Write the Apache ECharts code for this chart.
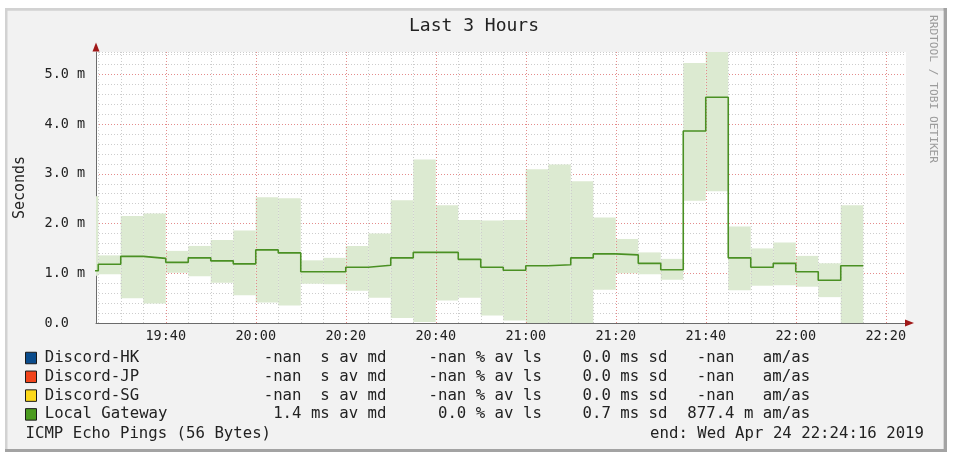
<!DOCTYPE html>
<html>
<head>
<meta charset="utf-8">
<script src="https://cdn.jsdelivr.net/npm/echarts@6/dist/echarts.min.js"></script>
<style>
html,body{margin:0;padding:0;background:#fff;}
#c{width:953px;height:456px;}
</style>
</head>
<body>
<div id="c"></div>
<script>
// time in minutes after 19:00; each value holds for a 5-minute step
const stepStart = [20,25,30,35,40,45,50,55,60,65,70,75,80,85,90,95,100,105,110,115,120,125,130,135,140,145,150,155,160,165,170,175,180,185,190];
const stepLen = 5;
// values in milliseconds (axis unit "m" = milli-seconds)
const bandLow  = [0.95,0.98,0.50,0.39,1.01,0.94,0.81,0.56,0.41,0.35,0.79,0.78,0.65,0.51,0.10,0.02,0.45,0.51,0.15,0.05,0.00,0.00,0.00,0.67,1.00,0.98,0.87,2.46,2.65,0.66,0.75,0.76,0.73,0.52,0.00];
const bandHigh = [2.55,1.36,2.15,2.20,1.45,1.55,1.67,1.86,2.53,2.51,1.26,1.31,1.55,1.80,2.47,3.29,2.37,2.07,2.06,2.07,3.09,3.19,2.85,2.12,1.69,1.42,1.29,5.23,5.50,1.94,1.50,1.62,1.35,1.20,2.37];
const median   = [1.05,1.18,1.34,1.30,1.22,1.31,1.25,1.19,1.47,1.41,1.03,1.03,1.12,1.16,1.31,1.42,1.42,1.28,1.12,1.06,1.15,1.17,1.31,1.39,1.37,1.20,1.07,3.86,4.54,1.31,1.12,1.20,1.03,0.86,1.15];

const xMin = 24.5, xMax = 204.5;
const tickTimes  = [40,60,80,100,120,140,160,180,200];
const tickLabels = ['19:40','20:00','20:20','20:40','21:00','21:20','21:40','22:00','22:20'];
const yTicks      = [0,1,2,3,4,5];
const yTickLabels = ['0.0','1.0 m','2.0 m','3.0 m','4.0 m','5.0 m'];

const legendNames  = ['Discord-HK','Discord-JP','Discord-SG','Local Gateway'];
const legendColors = ['#0b4c8c','#f2441b','#fcd81a','#4b9b1f'];
const legendStats = [
  ['-nan  s av md','-nan % av ls','0.0 ms sd',' -nan   am/as'],
  ['-nan  s av md','-nan % av ls','0.0 ms sd',' -nan   am/as'],
  ['-nan  s av md','-nan % av ls','0.0 ms sd',' -nan   am/as'],
  [' 1.4 ms av md',' 0.0 % av ls','0.7 ms sd','877.4 m am/as']
];
const titleText = 'Last 3 Hours';
const footLeft = 'ICMP Echo Pings (56 Bytes)';
const footRight = 'end: Wed Apr 24 22:24:16 2019';
const watermark = 'RRDTOOL / TOBI OETIKER';

const MONO = '"DejaVu Sans Mono", monospace';

const bandData = stepStart.map((t,i)=>[t, t + stepLen, bandLow[i], bandHigh[i]]);
const medPts = stepStart.map((t,i)=>[t, median[i]]);
medPts.push([stepStart[stepStart.length-1] + stepLen, median[median.length-1]]);

const gridLines = [];
for (let t = 25; t < xMax; t += 5) {
  const major = tickTimes.indexOf(t) >= 0;
  gridLines.push({xAxis: t, lineStyle: {color: major ? '#e48c8c' : '#cdcdcd', type: [1,2], width: 1}});
}

const chart = echarts.init(document.getElementById('c'), null, {renderer:'canvas'});
const richW = {fontFamily: MONO, fontSize: 15.7, color:'#222', lineHeight: 16};
chart.setOption({
  animation: false,
  backgroundColor: '#ffffff',
  title: {
    text: titleText, left: 474, top: 17, textAlign: 'center', padding: 0,
    textStyle: {fontFamily: MONO, fontSize: 18, fontWeight: 'normal', color: '#222'}
  },
  grid: {left: 96, top: 52, width: 810, height: 271, show: true, backgroundColor: '#ffffff', borderWidth: 0, containLabel: false, outerBoundsMode: 'none'},
  xAxis: [
    {
      type: 'value', min: xMin, max: xMax,
      axisLine: {show: true, onZero: false, lineStyle: {color: '#6b6b6b', width: 1}},
      axisTick: {show: false},
      splitLine: {show: false},
      axisLabel: {
        customValues: tickTimes, margin: 6,
        fontFamily: MONO, fontSize: 13.5, color: '#222',
        formatter: v => tickLabels[tickTimes.indexOf(Math.round(v))] || ''
      }
    },
    {
      type: 'value', min: xMin, max: xMax, position: 'bottom',
      axisLine: {show: true, onZero: false, symbol: ['none','triangle'], symbolSize: [7,9], symbolOffset: [0,3.5], lineStyle: {color: '#a01818', width: 0}},
      axisTick: {show: false}, axisLabel: {show: false}, splitLine: {show: false}
    }
  ],
  yAxis: [
    {
      type: 'value', min: 0, max: 5.45, interval: 0.2, position: 'left',
      axisLine: {show: true, onZero: false, lineStyle: {color: '#6b6b6b', width: 1}},
      axisTick: {show: false}, axisLabel: {show: false},
      splitLine: {show: true, showMinLine: false, lineStyle: {color: '#cdcdcd', type: [1,2], width: 1}}
    },
    {
      type: 'value', min: 0, max: 5.45, interval: 1, position: 'left',
      name: 'Seconds', nameLocation: 'middle', nameGap: 68, nameRotate: 90,
      nameTextStyle: {fontFamily: MONO, fontSize: 15, color: '#222'},
      axisLine: {show: true, onZero: false, symbol: ['none','triangle'], symbolSize: [7,9], symbolOffset: [0,5], lineStyle: {color: '#a01818', width: 0}},
      axisTick: {show: false},
      axisLabel: {
        show: true, align: 'left', margin: 51.5, showMaxLabel: false,
        fontFamily: MONO, fontSize: 13.5, color: '#222',
        formatter: v => { const i = yTicks.indexOf(v); return i >= 0 ? yTickLabels[i] : ''; }
      },
      splitLine: {show: true, showMinLine: false, showMaxLine: false, lineStyle: {color: '#e48c8c', type: [1,2], width: 1}}
    }
  ],
  legend: {
    data: legendNames, orient: 'vertical', left: 25, top: 350, padding: 0,
    itemGap: 2.8, itemWidth: 11, itemHeight: 11.5, icon: 'rect', selectedMode: false,
    itemStyle: {borderColor: '#1a1a1a', borderWidth: 1},
    textStyle: {
      fontFamily: MONO, fontSize: 15.7, color: '#222', lineHeight: 16,
      rich: {
        s: Object.assign({width: 3.2}, richW),
        a: Object.assign({width: 219}, richW),
        b: Object.assign({width: 164.8}, richW),
        c: Object.assign({width: 154}, richW),
        d: Object.assign({width: 104.8}, richW),
        e: Object.assign({}, richW)
      }
    },
    formatter: name => {
      const s = legendStats[legendNames.indexOf(name)];
      return '{s| }{a|' + name + '}{b|' + s[0] + '}{c|' + s[1] + '}{d|' + s[2] + '}{e|' + s[3] + '}';
    }
  },
  graphic: [
    {type: 'rect', z: -10, silent: true, shape: {x: 5, y: 8, width: 942, height: 444}, style: {fill: '#a3a3a3'}},
    {type: 'rect', z: -9, silent: true, shape: {x: 5, y: 8, width: 938.5, height: 441}, style: {fill: '#d2d2d2'}},
    {type: 'rect', z: -8, silent: true, shape: {x: 7.5, y: 10.7, width: 936, height: 438.3}, style: {fill: '#f2f2f2'}},
    {type: 'text', z: 5, silent: true, x: 932.5, y: 89, rotation: -Math.PI/2,
      style: {text: watermark, fill: '#9c9c9c', font: '11.2px ' + MONO, align: 'center', verticalAlign: 'middle'}},
    {type: 'text', z: 5, silent: true, x: 25.5, y: 433.5,
      style: {text: footLeft, fill: '#222', font: '15.7px ' + MONO, align: 'left', verticalAlign: 'middle'}},
    {type: 'text', z: 5, silent: true, x: 924, y: 433.5,
      style: {text: footRight, fill: '#222', font: '15.7px ' + MONO, align: 'right', verticalAlign: 'middle'}}
  ],
  series: [
    {
      type: 'custom', name: 'band', data: bandData, silent: true, z: 1,
      encode: {x: [0,1], y: [2,3]},
      renderItem: (params, api) => {
        const p0 = api.coord([api.value(0), api.value(3)]);
        const p1 = api.coord([api.value(1), api.value(2)]);
        const cs = params.coordSys;
        const r = echarts.graphic.clipRectByRect(
          {x: p0[0], y: p0[1], width: p1[0] - p0[0], height: p1[1] - p0[1]},
          {x: cs.x, y: cs.y, width: cs.width, height: cs.height});
        if (!r) return null;
        return {type: 'rect', shape: r, style: {fill: '#dcead1'}};
      }
    },
    {
      type: 'line', name: 'gridlines', data: [], silent: true, z: 2,
      markLine: {silent: true, z: 2, symbol: ['none','none'], label: {show: false}, animation: false, data: gridLines}
    },
    {
      type: 'line', name: 'Local Gateway', step: 'end', data: medPts,
      symbol: 'none', silent: true, z: 4,
      itemStyle: {color: legendColors[3]},
      lineStyle: {color: '#4a9023', width: 1.6}
    },
    {type: 'line', name: 'Discord-HK', data: [], itemStyle: {color: legendColors[0]}},
    {type: 'line', name: 'Discord-JP', data: [], itemStyle: {color: legendColors[1]}},
    {type: 'line', name: 'Discord-SG', data: [], itemStyle: {color: legendColors[2]}}
  ]
});
</script>
</body>
</html>
